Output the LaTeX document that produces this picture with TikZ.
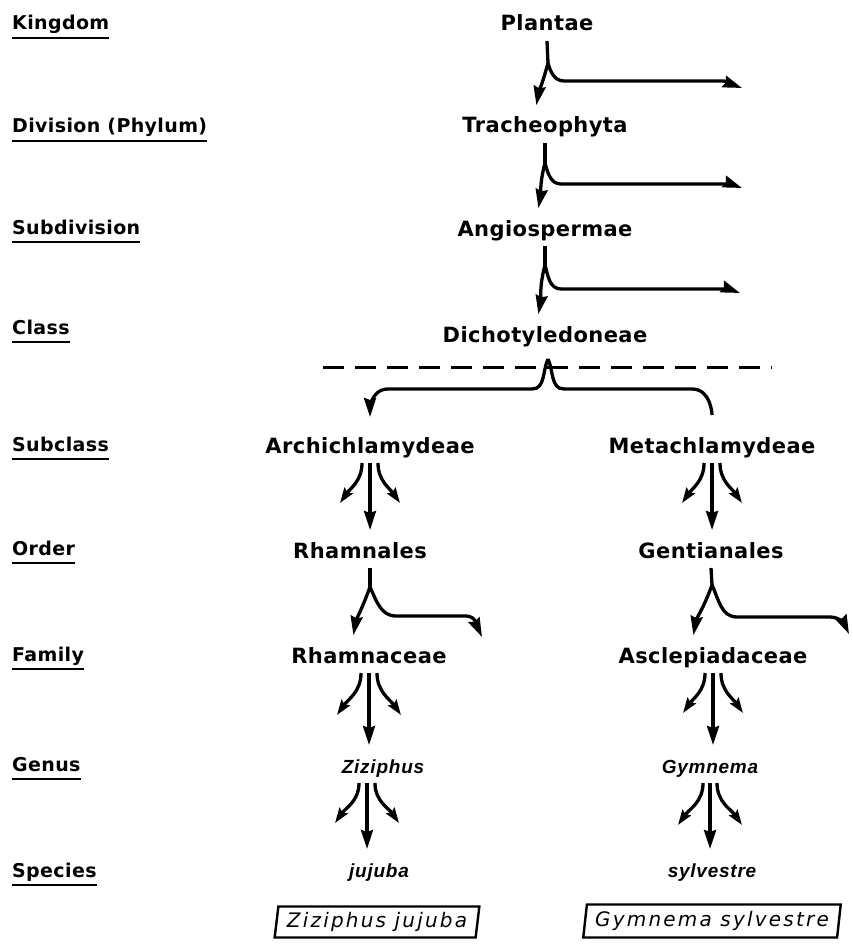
\documentclass[tikz,border=0pt]{standalone}
\usepackage{fontspec}
\setmainfont{DejaVu Sans}
\newfontfamily\rankfont[LetterSpace=2]{DejaVu Sans}
\newfontfamily\taxfont[LetterSpace=2]{DejaVu Sans}
\newfontfamily\latinfont[LetterSpace=4]{Liberation Sans}
\newfontfamily\binomfont[LetterSpace=11]{DejaVu Sans}
\usetikzlibrary{arrows.meta,shapes.geometric}

\begin{document}
\begin{tikzpicture}[x=1pt,y=-1pt,
  rank/.style={anchor=base west,inner sep=0pt,text depth=8pt,font=\rankfont\bfseries\fontsize{19}{22}\selectfont},
  taxon/.style={anchor=base,inner sep=0pt,outer sep=6pt,text height=14pt,text depth=4pt,font=\taxfont\bfseries\fontsize{21}{24}\selectfont},
  latin/.style={taxon,font=\latinfont\bfseries\itshape\fontsize{19}{22}\selectfont},
  binom/.style={trapezium,trapezium left angle=80,trapezium right angle=100,trapezium stretches=true,
    draw,line width=2.4pt,inner sep=0pt,font=\binomfont\itshape\fontsize{20}{22}\selectfont},
  plain/.style={line width=3.3pt},
  down/.style={plain,-{Stealth[length=19pt,width=12pt,inset=2pt]},shorten >=8pt},
  away/.style={plain,-{Stealth[length=19pt,width=12pt,inset=2pt]}},
  branch/.style={plain,-{Stealth[open,length=15pt,width=10pt,inset=2pt]}}]
\useasboundingbox (0,0) rectangle (852,944);

% ranks on the left
\node[rank] (kingdom) at (12,30) {Kingdom};
\node[rank] (division) at (12,133) {Division (Phylum)};
\node[rank] (subdivision) at (12,234) {Subdivision};
\node[rank] (class) at (12,334) {Class};
\node[rank] (subclass) at (12,451) {Subclass};
\node[rank] (order) at (12,555) {Order};
\node[rank] (family) at (12,661) {Family};
\node[rank] (genus) at (12,771) {Genus};
\node[rank] (species) at (12,877) {Species};
\draw[line width=2.4pt] (kingdom.south west) -- (kingdom.south east);
\draw[line width=2.4pt] (division.south west) -- (division.south east);
\draw[line width=2.4pt] (subdivision.south west) -- (subdivision.south east);
\draw[line width=2.4pt] (class.south west) -- (class.south east);
\draw[line width=2.4pt] (subclass.south west) -- (subclass.south east);
\draw[line width=2.4pt] (order.south west) -- (order.south east);
\draw[line width=2.4pt] (family.south west) -- (family.south east);
\draw[line width=2.4pt] (genus.south west) -- (genus.south east);
\draw[line width=2.4pt] (species.south west) -- (species.south east);

% taxa
\node[taxon] (plantae) at (547,31) {Plantae};
\node[taxon] (tracheophyta) at (545,133) {Tracheophyta};
\node[taxon] (angiospermae) at (545,236) {Angiospermae};
\node[taxon] (dicot) at (545,342) {Dichotyledoneae};
\node[taxon] (archi) at (370,453) {Archichlamydeae};
\node[taxon] (meta) at (712,453) {Metachlamydeae};
\node[taxon] (rhamnales) at (360,558) {Rhamnales};
\node[taxon] (gentianales) at (711,558) {Gentianales};
\node[taxon] (rhamnaceae) at (369,663) {Rhamnaceae};
\node[taxon] (asclepiadaceae) at (713,663) {Asclepiadaceae};
\node[latin] (ziziphus) at (383,773) {Ziziphus};
\node[latin] (gymnema) at (710,773) {Gymnema};
\node[latin] (jujuba) at (379,877) {jujuba};
\node[latin] (sylvestre) at (712,877) {sylvestre};
\node[binom,minimum width=205pt,minimum height=31pt] (zizjuj) at (377,922) {Ziziphus jujuba};
\node[binom,minimum width=258pt,minimum height=33pt] (gymsyl) at (712,921) {Gymnema sylvestre};

% forks down the main line
\coordinate (fk1) at (548,63);
\coordinate (end1) at (742,88);
\draw[plain] (plantae.south) -- (fk1);
\draw[down] (fk1) to[out=-105,in=80] ([xshift=-10pt]tracheophyta.north);
\draw[away] (fk1) to[out=-75,in=180] ++(16,18) -- ++(158,0) to[out=0,in=160] (end1);

\coordinate (fk2) at (545,163);
\coordinate (end2) at (742,188);
\draw[plain] (tracheophyta.south) -- (fk2);
\draw[down] (fk2) to[out=-105,in=80] ([xshift=-8pt]angiospermae.north);
\draw[away] (fk2) to[out=-75,in=180] ++(16,21) -- ++(162,0) to[out=0,in=160] (end2);

\coordinate (fk3) at (545,265);
\coordinate (end3) at (740,293);
\draw[plain] (angiospermae.south) -- (fk3);
\draw[down] (fk3) to[out=-105,in=80] ([xshift=-8pt]dicot.north);
\draw[away] (fk3) to[out=-75,in=180] ++(16,24) -- ++(161,0) to[out=0,in=160] (end3);

% split into the two subclasses
\draw[line width=3pt,dash pattern=on 21pt off 11pt] (323,367) -- (772,367);
\coordinate (fk4) at (548,359);
\draw[down,shorten >=16pt] (fk4) to[out=-115,in=0] ++(-16,30) -- ++(-144,0) to[out=180,in=90] (archi.north);
\draw[plain,shorten >=18pt] (fk4) to[out=-65,in=180] ++(16,30) -- ++(128,0) to[out=0,in=90] (meta.north);

% left line
\draw[down] (archi.south) -- (archi.south |- rhamnales.north);
\draw[branch] ([xshift=-8pt]archi.south) to[out=-90,in=55] ++(-22,40);
\draw[branch] ([xshift=8pt]archi.south) to[out=-90,in=125] ++(22,40);

\coordinate (fk5) at (370,587);
\coordinate (end5) at (482,637);
\draw[plain] (fk5 |- rhamnales.south) -- (fk5);
\draw[down] (fk5) to[out=-110,in=80] ([xshift=-17pt]rhamnaceae.north);
\draw[away] (fk5) to[out=-65,in=180] ++(26,29) -- ++(70,0) to[out=0,in=115] (end5);

\draw[down] (rhamnaceae.south) -- (rhamnaceae.south |- ziziphus.north);
\draw[branch] ([xshift=-8pt]rhamnaceae.south) to[out=-90,in=55] ++(-24,42);
\draw[branch] ([xshift=8pt]rhamnaceae.south) to[out=-90,in=125] ++(24,42);

\coordinate (zcol) at ([xshift=-16pt]ziziphus.south);
\draw[down] (zcol) -- (zcol |- jujuba.north);
\draw[branch] ([xshift=-8pt]zcol) to[out=-90,in=55] ++(-24,40);
\draw[branch] ([xshift=8pt]zcol) to[out=-90,in=125] ++(24,40);

% right line
\draw[down] (meta.south) -- (meta.south |- gentianales.north);
\draw[branch] ([xshift=-8pt]meta.south) to[out=-90,in=55] ++(-22,40);
\draw[branch] ([xshift=8pt]meta.south) to[out=-90,in=125] ++(22,40);

\coordinate (fk6) at (712,585);
\coordinate (end6) at (849,634);
\draw[plain] (gentianales.south) -- (fk6);
\draw[down] (fk6) to[out=-110,in=80] ([xshift=-21pt]asclepiadaceae.north);
\draw[away] (fk6) to[out=-65,in=180] ++(25,32) -- ++(93,0) to[out=0,in=115] (end6);

\draw[down] (asclepiadaceae.south) -- (asclepiadaceae.south |- gymnema.north);
\draw[branch] ([xshift=-8pt]asclepiadaceae.south) to[out=-90,in=55] ++(-22,40);
\draw[branch] ([xshift=8pt]asclepiadaceae.south) to[out=-90,in=125] ++(22,40);

\draw[down] (gymnema.south) -- (gymnema.south |- sylvestre.north);
\draw[branch] ([xshift=-7pt]gymnema.south) to[out=-90,in=55] ++(-25,42);
\draw[branch] ([xshift=7pt]gymnema.south) to[out=-90,in=125] ++(25,42);
\end{tikzpicture}
\end{document}
